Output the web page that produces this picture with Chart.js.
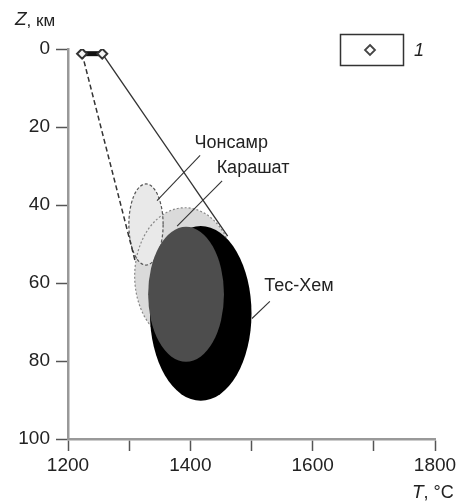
<!DOCTYPE html>
<html>
<head>
<meta charset="utf-8">
<script src="https://cdn.jsdelivr.net/npm/chart.js@4/dist/chart.umd.min.js"></script>
<style>
html,body{margin:0;padding:0;background:#fff;}
#c{display:block;}
</style>
</head>
<body>
<canvas id="c" width="461" height="504"></canvas>
<script>
// ---- data ----
const pointT = [1223, 1256];
const pointZ = [1.2, 1.2];
const dashedT = [1223, 1310];
const dashedZ = [1.2, 54.5];
const solidT = [1256, 1461];
const solidZ = [1.2, 48];

const ellipseNames = ['Карашат', 'Чонсамр', 'Тес-Хем', 'Тес-Хем (ядро)'];
const ellipseT = [1391, 1327.5, 1417, 1393];
const ellipseZ = [58.2, 45, 67.8, 62.9];
const ellipseRT = [82, 28, 83, 62];
const ellipseRZ = [17.5, 10.4, 22.4, 17.3];

const labelTexts = ['Чонсамр', 'Карашат', 'Тес-Хем'];
const labelT = [1407, 1443, 1521];
const labelZ = [24.2, 30.4, 60.8];
const leaderT1 = [1416, 1452, 1530];
const leaderZ1 = [27.3, 33.8, 64.7];
const leaderT2 = [1345.5, 1378.4, 1500.8];
const leaderZ2 = [38.9, 45.4, 69.1];

const xTicks = [1200, 1300, 1400, 1500, 1600, 1700, 1800];
const yTicks = [0, 20, 40, 60, 80, 100];
const legendLabel = '1';

// ---- styles ----
const FONT = '"Liberation Sans", Arial, sans-serif';
const ellipseStyles = [
  {fill: '#dadada', stroke: '#888', dash: [2, 2]},
  {fill: '#e9e9e9', stroke: '#555', dash: [3, 2]},
  {fill: '#000000', stroke: null, dash: []},
  {fill: '#4d4d4d', stroke: null, dash: []}
];

const pts = (ts, zs) => ts.map((t, i) => ({x: t, y: zs[i]}));

const datasets = [
  {
    data: pts(pointT, pointZ),
    showLine: true,
    borderColor: '#111',
    borderWidth: 5,
    pointStyle: 'rectRot',
    pointRadius: 5,
    pointBackgroundColor: '#f4f4f4',
    pointBorderColor: '#333',
    pointBorderWidth: 2
  },
  {
    data: pts(dashedT, dashedZ),
    showLine: true, borderColor: '#333', borderWidth: 1.5, borderDash: [5, 3], pointRadius: 0
  },
  {
    data: pts(solidT, solidZ),
    showLine: true, borderColor: '#333', borderWidth: 1.3, pointRadius: 0
  }
];
labelTexts.forEach((t, i) => {
  datasets.push({
    data: [{x: leaderT1[i], y: leaderZ1[i]}, {x: leaderT2[i], y: leaderZ2[i]}],
    showLine: true, borderColor: '#333', borderWidth: 1.1, pointRadius: 0
  });
});

function ellipseGeom(xs, ys, i) {
  const cx = xs.getPixelForValue(ellipseT[i]);
  const cy = ys.getPixelForValue(ellipseZ[i]);
  const rx = Math.abs(xs.getPixelForValue(ellipseT[i] + ellipseRT[i]) - cx);
  const ry = Math.abs(ys.getPixelForValue(ellipseZ[i] + ellipseRZ[i]) - cy);
  return {cx, cy, rx, ry};
}

const drawPlugin = {
  id: 'geoDraw',
  beforeDatasetsDraw(chart) {
    const ctx = chart.ctx, xs = chart.scales.x, ys = chart.scales.y;
    [0, 1].forEach(i => {
      const g = ellipseGeom(xs, ys, i);
      ctx.save();
      ctx.beginPath();
      ctx.ellipse(g.cx, g.cy, g.rx, g.ry, 0, 0, Math.PI * 2);
      ctx.fillStyle = ellipseStyles[i].fill;
      ctx.fill();
      ctx.restore();
    });
    [0, 1].forEach(i => {
      const g = ellipseGeom(xs, ys, i);
      ctx.save();
      ctx.beginPath();
      ctx.ellipse(g.cx, g.cy, g.rx, g.ry, 0, 0, Math.PI * 2);
      ctx.strokeStyle = ellipseStyles[i].stroke;
      ctx.setLineDash(ellipseStyles[i].dash);
      ctx.lineWidth = 1.2;
      ctx.stroke();
      ctx.restore();
    });
    [2, 3].forEach(i => {
      const g = ellipseGeom(xs, ys, i);
      ctx.save();
      ctx.beginPath();
      ctx.ellipse(g.cx, g.cy, g.rx, g.ry, 0, 0, Math.PI * 2);
      ctx.fillStyle = ellipseStyles[i].fill;
      ctx.fill();
      ctx.restore();
    });
  },
  afterDraw(chart) {
    const ctx = chart.ctx, xs = chart.scales.x, ys = chart.scales.y;
    ctx.save();
    ctx.fillStyle = '#222';
    ctx.textBaseline = 'middle';
    ctx.textAlign = 'left';
    ctx.font = '18px ' + FONT;
    labelTexts.forEach((t, i) => {
      ctx.fillText(t, xs.getPixelForValue(labelT[i]), ys.getPixelForValue(labelZ[i]));
    });
    // axis titles
    ctx.font = 'italic 19px ' + FONT;
    ctx.fillText('Z', 15, 20);
    let w = ctx.measureText('Z').width;
    ctx.font = '17px ' + FONT;
    ctx.fillText(', км', 15 + w, 21);
    ctx.font = 'italic 19px ' + FONT;
    ctx.fillText('T', 412, 493);
    w = ctx.measureText('T').width;
    ctx.font = '18px ' + FONT;
    ctx.fillText(', °C', 412 + w, 493);
    // legend box
    ctx.strokeStyle = '#333';
    ctx.lineWidth = 1.5;
    ctx.strokeRect(340.5, 34.5, 63, 31);
    ctx.beginPath();
    ctx.moveTo(370, 45); ctx.lineTo(375, 50); ctx.lineTo(370, 55); ctx.lineTo(365, 50); ctx.closePath();
    ctx.fillStyle = '#fff'; ctx.fill();
    ctx.strokeStyle = '#444'; ctx.lineWidth = 1.8; ctx.stroke();
    ctx.fillStyle = '#222';
    ctx.font = 'italic 18px ' + FONT;
    ctx.fillText(legendLabel, 414, 51);
    ctx.restore();
  }
};

new Chart(document.getElementById('c'), {
  type: 'scatter',
  data: {datasets},
  options: {
    responsive: false,
    animation: false,
    devicePixelRatio: 1,
    layout: {padding: {top: 49, right: 26, left: 0, bottom: 0}},
    plugins: {legend: {display: false}, tooltip: {enabled: false}},
    scales: {
      x: {
        type: 'linear', min: 1200, max: 1800,
        afterBuildTicks: s => { s.ticks = xTicks.map(v => ({value: v})); },
        afterFit: s => { s.height = 65; },
        grid: {drawOnChartArea: false, drawTicks: true, tickLength: 12, tickColor: '#555', tickWidth: 1.5},
        border: {color: '#999', width: 2.5},
        ticks: {
          autoSkip: false, maxRotation: 0, padding: 3, color: '#222',
          font: {family: FONT, size: 19},
          callback: v => (v % 200 === 0 ? String(v) : '')
        }
      },
      y: {
        type: 'linear', min: 0, max: 100, reverse: true,
        afterBuildTicks: s => { s.ticks = yTicks.map(v => ({value: v})); },
        afterFit: s => { s.width = 68; },
        grid: {drawOnChartArea: false, drawTicks: true, tickLength: 12, tickColor: '#555', tickWidth: 1.5},
        border: {color: '#999', width: 2.5},
        ticks: {padding: 6, color: '#222', font: {family: FONT, size: 19}}
      }
    }
  },
  plugins: [drawPlugin]
});
</script>
</body>
</html>
